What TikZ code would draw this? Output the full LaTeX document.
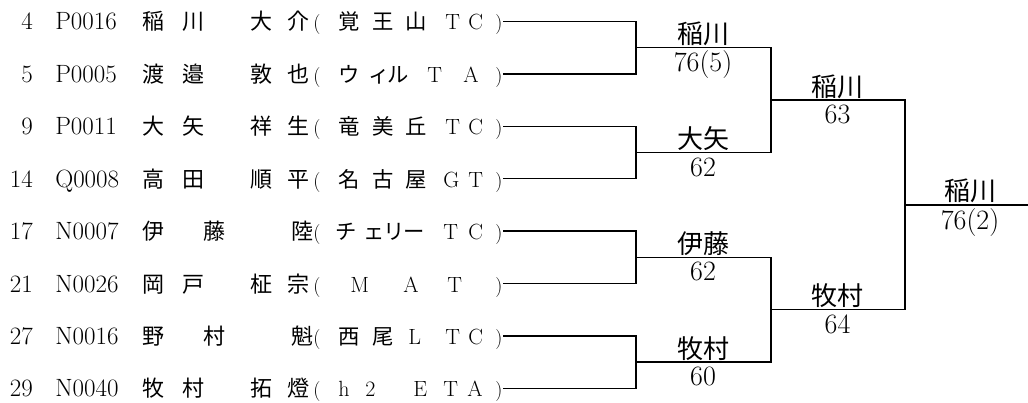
\documentclass[tikz,border=0pt]{standalone}
\usepackage{fontspec}
\usepackage{tikz}
\setmainfont{Latin Modern Roman}
\newfontfamily\jpfont{Noto Sans CJK JP}
\newcommand{\teamjp}{\jpfont\fontsize{16pt}{18pt}\selectfont}

% one entry line: row, seed, code, name chars, club chars
\newcommand{\player}[5]{%
  \pgfmathsetmacro{\ly}{21.5+52.4*(#1-1)}
  \pgfmathsetmacro{\by}{\ly+8.5}
  \node[seed] (seed#1) at (33,\by) {#2};
  \node[code] (code#1) at (55,\by) {#3};
  \foreach \ch/\x [count=\k] in {#4} \node[namejp] (name#1-\k) at (\x,\by) {\ch};
  \node[paren] (open#1) at (313,\by) {(};
  \foreach \ch/\x [count=\k] in {#5} \node[club] (club#1-\k) at (\x,\by) {\ch};
  \node[paren] (close#1) at (495,\by) {)};
  \coordinate (p#1) at (503,\ly);
}

\begin{document}
\begin{tikzpicture}[x=0.75pt,y=-0.75pt,
    seed/.style={anchor=base east,inner sep=0pt,font=\fontsize{18.75pt}{20pt}\selectfont},
    code/.style={anchor=base west,inner sep=0pt,font=\fontsize{18.75pt}{20pt}\selectfont},
    namejp/.style={anchor=base west,inner sep=0pt,font=\jpfont\fontsize{16.5pt}{18pt}\selectfont},
    paren/.style={anchor=base west,inner sep=0pt,font=\fontsize{15pt}{17pt}\selectfont},
    club/.style={anchor=base west,inner sep=0pt,font=\fontsize{16.5pt}{18pt}\selectfont},
    winner/.style={anchor=base,inner sep=0pt,font=\jpfont\fontsize{19.5pt}{21pt}\selectfont},
    score/.style={anchor=base,inner sep=0pt,font=\fontsize{21pt}{23pt}\selectfont},
    bracket/.style={line width=1pt}]
    \useasboundingbox (0,0) rectangle (1028,403);

    % entries
    \player{1}{4}{P0016}{稲/142,川/182,大/250,介/287}{{\teamjp 覚}/338,{\teamjp 王}/372,{\teamjp 山}/405,T/445,C/468}
    \player{2}{5}{P0005}{渡/142,邉/182,敦/250,也/287}{{\teamjp ウ}/338,{\teamjp ィ}/368,{\teamjp ル}/387,T/427,A/463}
    \player{3}{9}{P0011}{大/142,矢/182,祥/250,生/287}{{\teamjp 竜}/338,{\teamjp 美}/372,{\teamjp 丘}/405,T/445,C/468}
    \player{4}{14}{Q0008}{高/142,田/182,順/250,平/287}{{\teamjp 名}/338,{\teamjp 古}/372,{\teamjp 屋}/405,G/443,T/468}
    \player{5}{17}{N0007}{伊/142,藤/203,陸/291}{{\teamjp チ}/335,{\teamjp ェ}/363,{\teamjp リ}/383,{\teamjp ー}/403,T/443,C/468}
    \player{6}{21}{N0026}{岡/142,戸/182,柾/250,宗/287}{M/350,A/403,T/447}
    \player{7}{27}{N0016}{野/142,村/203,魁/291}{{\teamjp 西}/338,{\teamjp 尾}/372,L/408,T/445,C/468}
    \player{8}{29}{N0040}{牧/142,村/182,拓/250,燈/287}{h/338,2/365,E/413,T/443,A/467}

    % match points
    \coordinate (m1) at (636,47.7);
    \coordinate (m2) at (636,152.5);
    \coordinate (m3) at (636,257.3);
    \coordinate (m4) at (636,362.1);
    \coordinate (s1) at (771,100.1);
    \coordinate (s2) at (771,309.7);
    \coordinate (f) at (905,204.9);
    \coordinate (champ) at (1028,204.9);

    % bracket
    \draw[bracket] (p1) -| (m1) |- (p2);
    \draw[bracket] (p3) -| (m2) |- (p4);
    \draw[bracket] (p5) -| (m3) |- (p6);
    \draw[bracket] (p7) -| (m4) |- (p8);
    \draw[bracket] (m1) -| (s1) |- (m2);
    \draw[bracket] (m3) -| (s2) |- (m4);
    \draw[bracket] (s1) -| (f) |- (s2);
    \draw[bracket] (f) -- (champ);

    % results
    \node[winner] (w1) at (703,43.7) {稲川};
    \node[score] (r1) at (703,71.2) {76(5)};
    \node[winner] (w2) at (703,148.5) {大矢};
    \node[score] (r2) at (703,176) {62};
    \node[winner] (w3) at (703,253.3) {伊藤};
    \node[score] (r3) at (703,280.8) {62};
    \node[winner] (w4) at (703,358.1) {牧村};
    \node[score] (r4) at (703,385.6) {60};
    \node[winner] (w5) at (837.5,96.1) {稲川};
    \node[score] (r5) at (837.5,123.6) {63};
    \node[winner] (w6) at (837.5,305.7) {牧村};
    \node[score] (r6) at (837.5,333.2) {64};
    \node[winner] (w7) at (970,200.9) {稲川};
    \node[score] (r7) at (970,229) {76(2)};
\end{tikzpicture}
\end{document}
